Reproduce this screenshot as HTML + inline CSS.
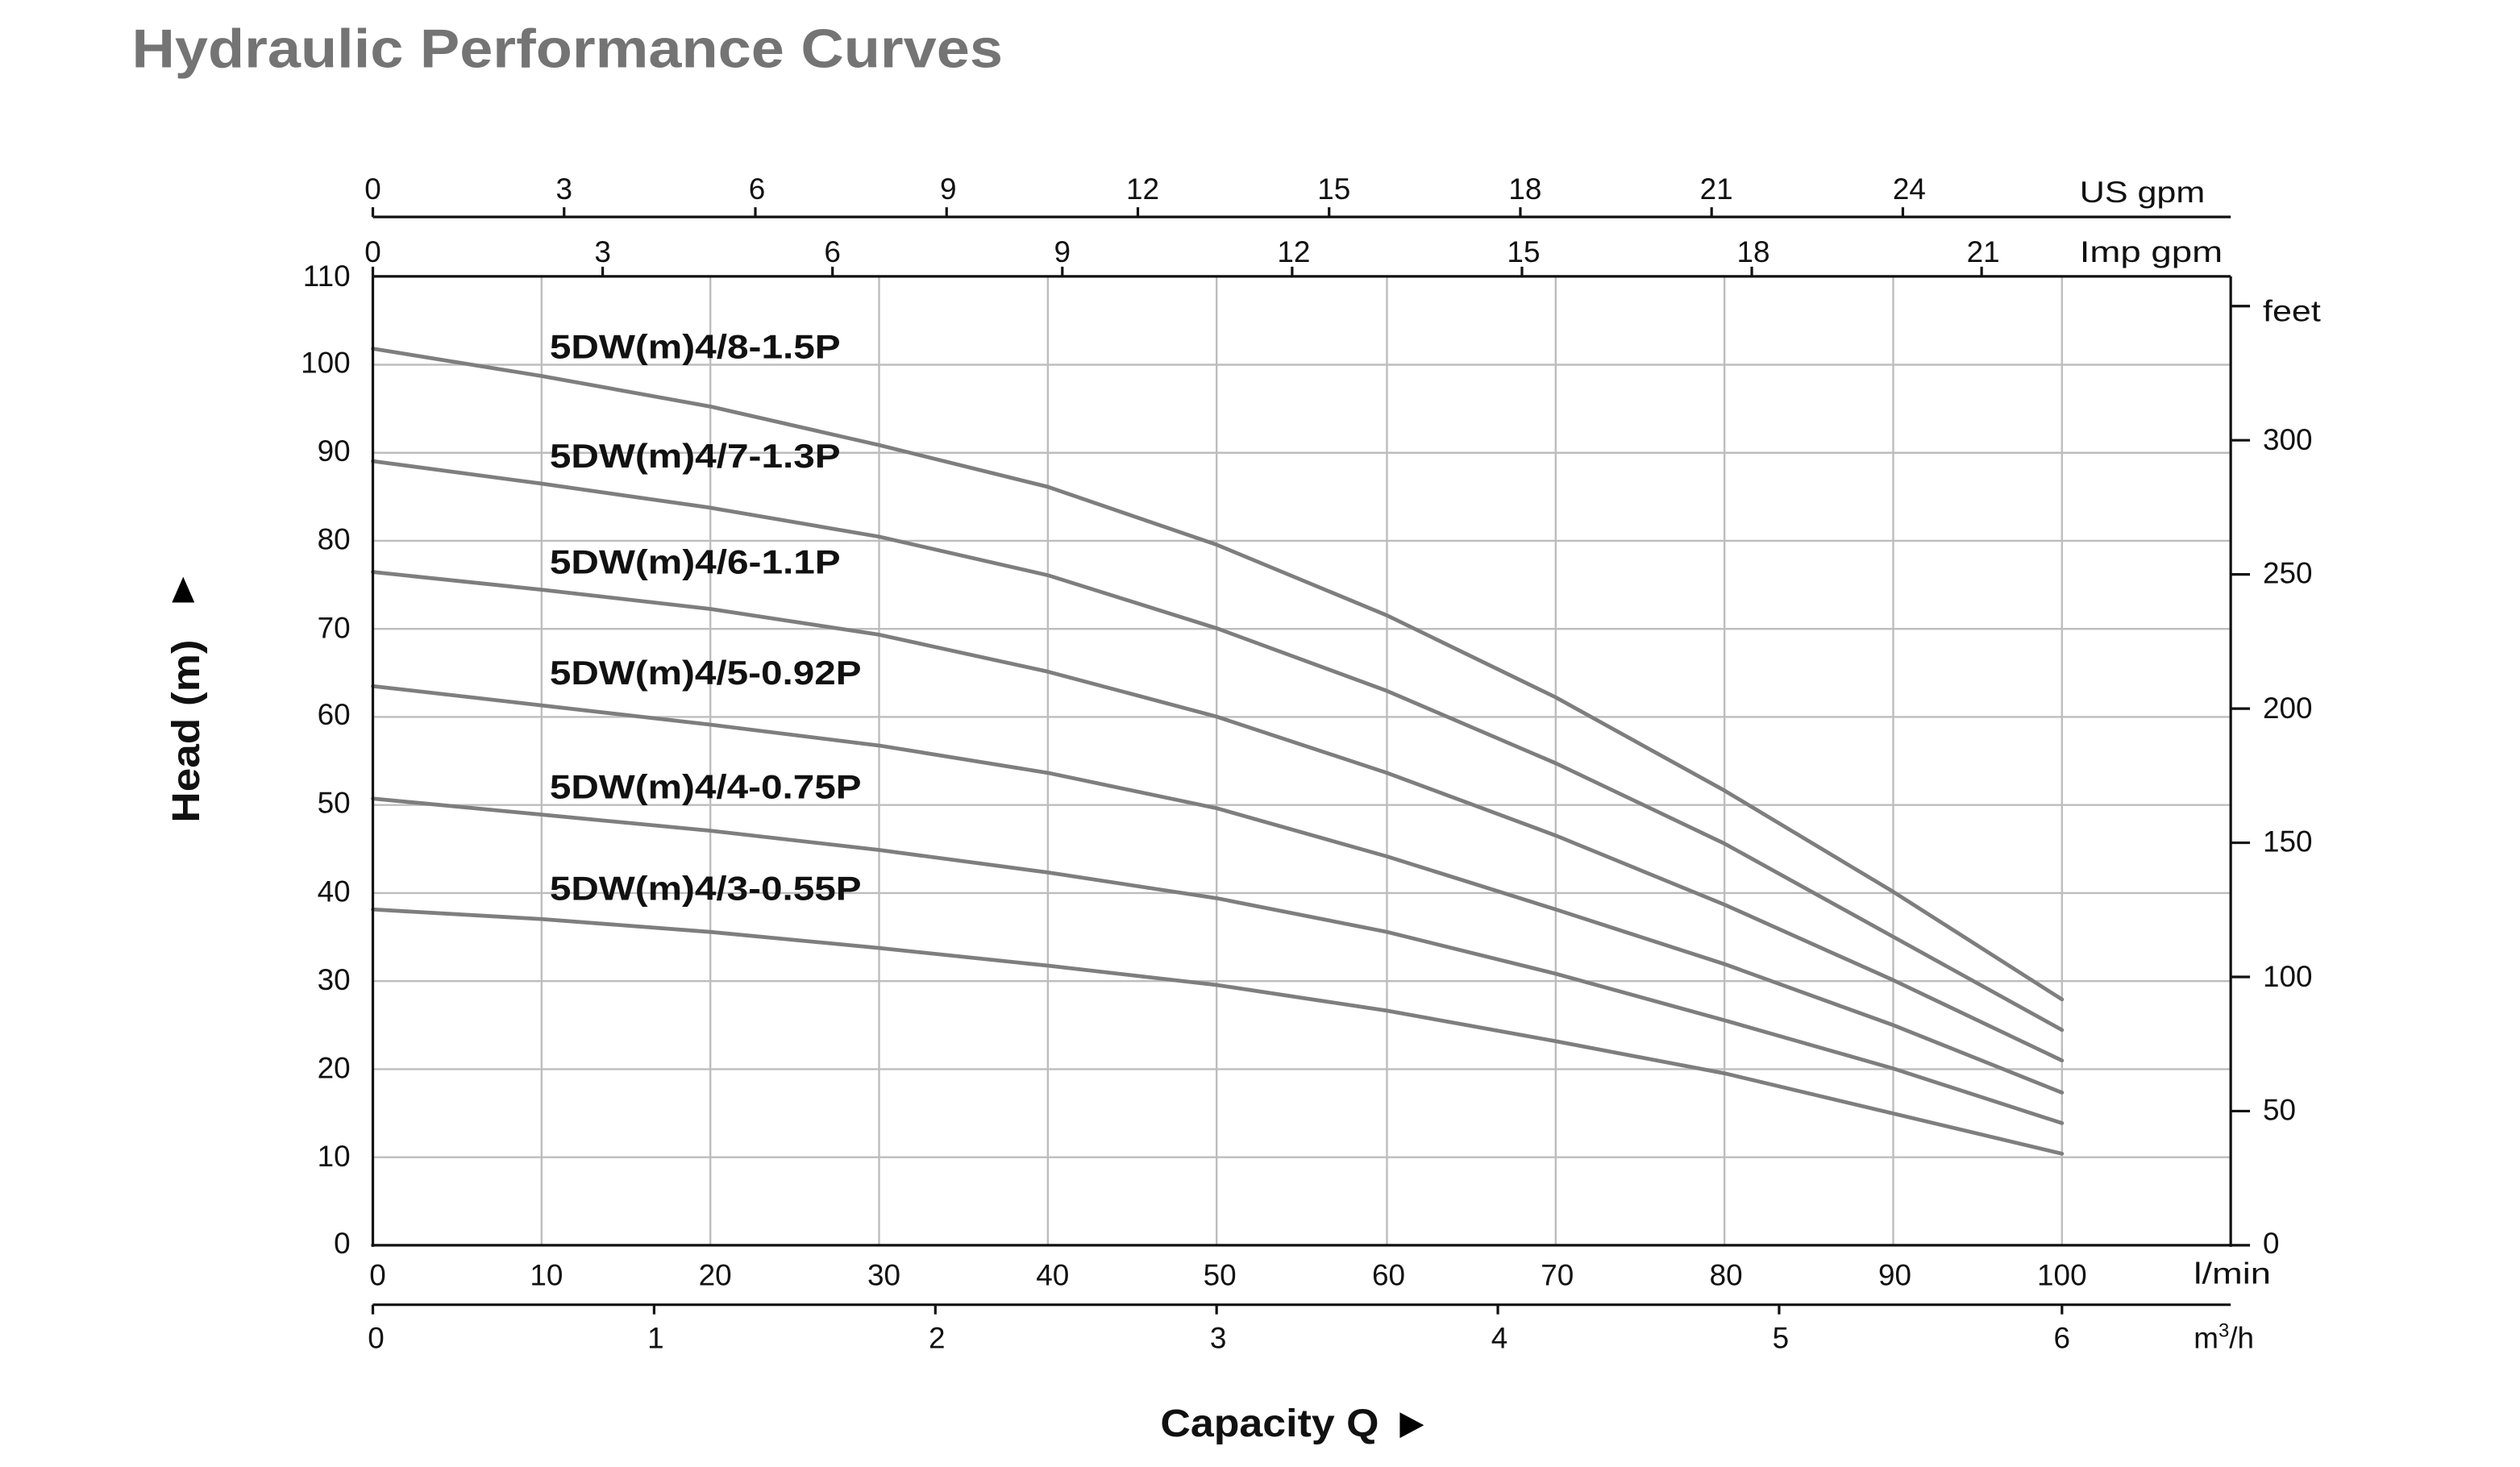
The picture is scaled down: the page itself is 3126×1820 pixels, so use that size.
<!DOCTYPE html>
<html><head><meta charset="utf-8"><style>
html,body{margin:0;padding:0;background:#fff;}
svg{display:block;}
text{font-family:"Liberation Sans",sans-serif;fill:#111;}
</style></head><body>
<svg width="3126" height="1820" viewBox="0 0 1568 913" preserveAspectRatio="none" xmlns="http://www.w3.org/2000/svg">
<rect width="1568" height="913" fill="#fff"/>
<text x="82" y="42" font-size="34" font-weight="bold" style="fill:#747474" textLength="542" lengthAdjust="spacingAndGlyphs">Hydraulic Performance Curves</text>

<g stroke="#bdbdbd" stroke-width="1.2">
<line x1="337" y1="172" x2="337" y2="775"/><line x1="442" y1="172" x2="442" y2="775"/>
<line x1="547" y1="172" x2="547" y2="775"/><line x1="652" y1="172" x2="652" y2="775"/>
<line x1="757" y1="172" x2="757" y2="775"/><line x1="863" y1="172" x2="863" y2="775"/>
<line x1="968" y1="172" x2="968" y2="775"/><line x1="1073" y1="172" x2="1073" y2="775"/>
<line x1="1178" y1="172" x2="1178" y2="775"/><line x1="1283" y1="172" x2="1283" y2="775"/>
<line x1="232" y1="720.2" x2="1388" y2="720.2"/><line x1="232" y1="665.4" x2="1388" y2="665.4"/>
<line x1="232" y1="610.6" x2="1388" y2="610.6"/><line x1="232" y1="555.8" x2="1388" y2="555.8"/>
<line x1="232" y1="501" x2="1388" y2="501"/><line x1="232" y1="446.2" x2="1388" y2="446.2"/>
<line x1="232" y1="391.4" x2="1388" y2="391.4"/><line x1="232" y1="336.6" x2="1388" y2="336.6"/>
<line x1="232" y1="281.8" x2="1388" y2="281.8"/><line x1="232" y1="227" x2="1388" y2="227"/>
</g>

<g fill="none" stroke="#7e7e7e" stroke-width="2.4" stroke-linejoin="round" stroke-linecap="round">
<polyline points="232,217 337,234 442,253 547,277 652,303 757,339 863,383 968,434 1073,492 1178,555 1283,622"/>
<polyline points="232,287 337,301 442,316 547,334 652,358 757,391 863,430 968,475 1073,525 1178,583 1283,641"/>
<polyline points="232,356 337,367 442,379 547,395 652,418 757,446 863,481 968,520 1073,563 1178,610 1283,660"/>
<polyline points="232,427 337,439 442,451 547,464 652,481 757,503 863,533 968,566 1073,600 1178,638 1283,680"/>
<polyline points="232,497 337,507 442,517 547,529 652,543 757,559 863,580 968,606 1073,635 1178,665 1283,699"/>
<polyline points="232,566 337,572 442,580 547,590 652,601 757,613 863,629 968,648 1073,668 1178,693 1283,718"/>
</g>

<g stroke="#111" stroke-width="1.6" fill="none">
<line x1="232" y1="172" x2="1388" y2="172"/>
<line x1="232" y1="172" x2="232" y2="776"/>
<line x1="231" y1="775" x2="1388" y2="775"/>
<line x1="1388" y1="172" x2="1388" y2="776"/>
<line x1="232" y1="135" x2="1388" y2="135"/>
<line x1="232" y1="812" x2="1388" y2="812"/>
<path d="M232 135v-6M351 135v-6M470 135v-6M589 135v-6M708 135v-6M827 135v-6M946 135v-6M1065 135v-6M1184 135v-6"/>
<path d="M232 172v-6M375 172v-6M518 172v-6M661 172v-6M804 172v-6M947 172v-6M1090 172v-6M1233 172v-6"/>
<path d="M232 812v6M407 812v6M582 812v6M757 812v6M932 812v6M1107 812v6M1283 812v6"/>
<path d="M1388 775h12M1388 691.5h12M1388 608h12M1388 524.5h12M1388 441h12M1388 357.5h12M1388 274h12M1388 190.5h12"/>
</g>

<g font-size="18.5" style="fill:#1a1a1a">
<g text-anchor="middle">
<text x="232" y="124">0</text><text x="351" y="124">3</text><text x="471" y="124">6</text>
<text x="590" y="124">9</text><text x="711" y="124">12</text><text x="830" y="124">15</text>
<text x="949" y="124">18</text><text x="1068" y="124">21</text><text x="1188" y="124">24</text>
</g>
<text x="1294" y="126" textLength="78" lengthAdjust="spacingAndGlyphs">US gpm</text>
<g text-anchor="middle">
<text x="232" y="163">0</text><text x="375" y="163">3</text><text x="518" y="163">6</text>
<text x="661" y="163">9</text><text x="805" y="163">12</text><text x="948" y="163">15</text>
<text x="1091" y="163">18</text><text x="1234" y="163">21</text>
</g>
<text x="1294" y="163" textLength="89" lengthAdjust="spacingAndGlyphs">Imp gpm</text>
<g text-anchor="end">
<text x="218" y="178">110</text><text x="218" y="232">100</text><text x="218" y="287">90</text>
<text x="218" y="342">80</text><text x="218" y="397">70</text><text x="218" y="451">60</text>
<text x="218" y="506">50</text><text x="218" y="561">40</text><text x="218" y="616">30</text>
<text x="218" y="671">20</text><text x="218" y="726">10</text><text x="218" y="780">0</text>
</g>
<text x="1408" y="200" textLength="36" lengthAdjust="spacingAndGlyphs">feet</text>
<text x="1408" y="280">300</text><text x="1408" y="363">250</text><text x="1408" y="447">200</text>
<text x="1408" y="530">150</text><text x="1408" y="614">100</text><text x="1408" y="697">50</text>
<text x="1408" y="780">0</text>
<g text-anchor="middle">
<text x="235" y="800">0</text><text x="340" y="800">10</text><text x="445" y="800">20</text>
<text x="550" y="800">30</text><text x="655" y="800">40</text><text x="759" y="800">50</text>
<text x="864" y="800">60</text><text x="969" y="800">70</text><text x="1074" y="800">80</text>
<text x="1179" y="800">90</text><text x="1283" y="800">100</text>
</g>
<text x="1365" y="799" textLength="48" lengthAdjust="spacingAndGlyphs">l/min</text>
<g text-anchor="middle">
<text x="234" y="839">0</text><text x="408" y="839">1</text><text x="583" y="839">2</text>
<text x="758" y="839">3</text><text x="933" y="839">4</text><text x="1108" y="839">5</text>
<text x="1283" y="839">6</text>
</g>
<text x="1365" y="839">m<tspan font-size="12" dy="-7">3</tspan><tspan dy="7">/h</tspan></text>
</g>

<g font-size="21" font-weight="bold">
<text x="342" y="223" textLength="181" lengthAdjust="spacingAndGlyphs">5DW(m)4/8-1.5P</text>
<text x="342" y="291" textLength="181" lengthAdjust="spacingAndGlyphs">5DW(m)4/7-1.3P</text>
<text x="342" y="357" textLength="181" lengthAdjust="spacingAndGlyphs">5DW(m)4/6-1.1P</text>
<text x="342" y="426" textLength="194" lengthAdjust="spacingAndGlyphs">5DW(m)4/5-0.92P</text>
<text x="342" y="497" textLength="194" lengthAdjust="spacingAndGlyphs">5DW(m)4/4-0.75P</text>
<text x="342" y="560" textLength="194" lengthAdjust="spacingAndGlyphs">5DW(m)4/3-0.55P</text>
</g>

<text transform="translate(124,512) rotate(-90)" font-size="24" font-weight="bold" textLength="114" lengthAdjust="spacingAndGlyphs">Head (m)</text>
<polygon points="114,359 107,375 121,375" fill="#000"/>
<text x="722" y="894" font-size="24" font-weight="bold" textLength="136" lengthAdjust="spacingAndGlyphs">Capacity Q</text>
<polygon points="871,879 871,895 886,887" fill="#000"/>
</svg>
</body></html>
